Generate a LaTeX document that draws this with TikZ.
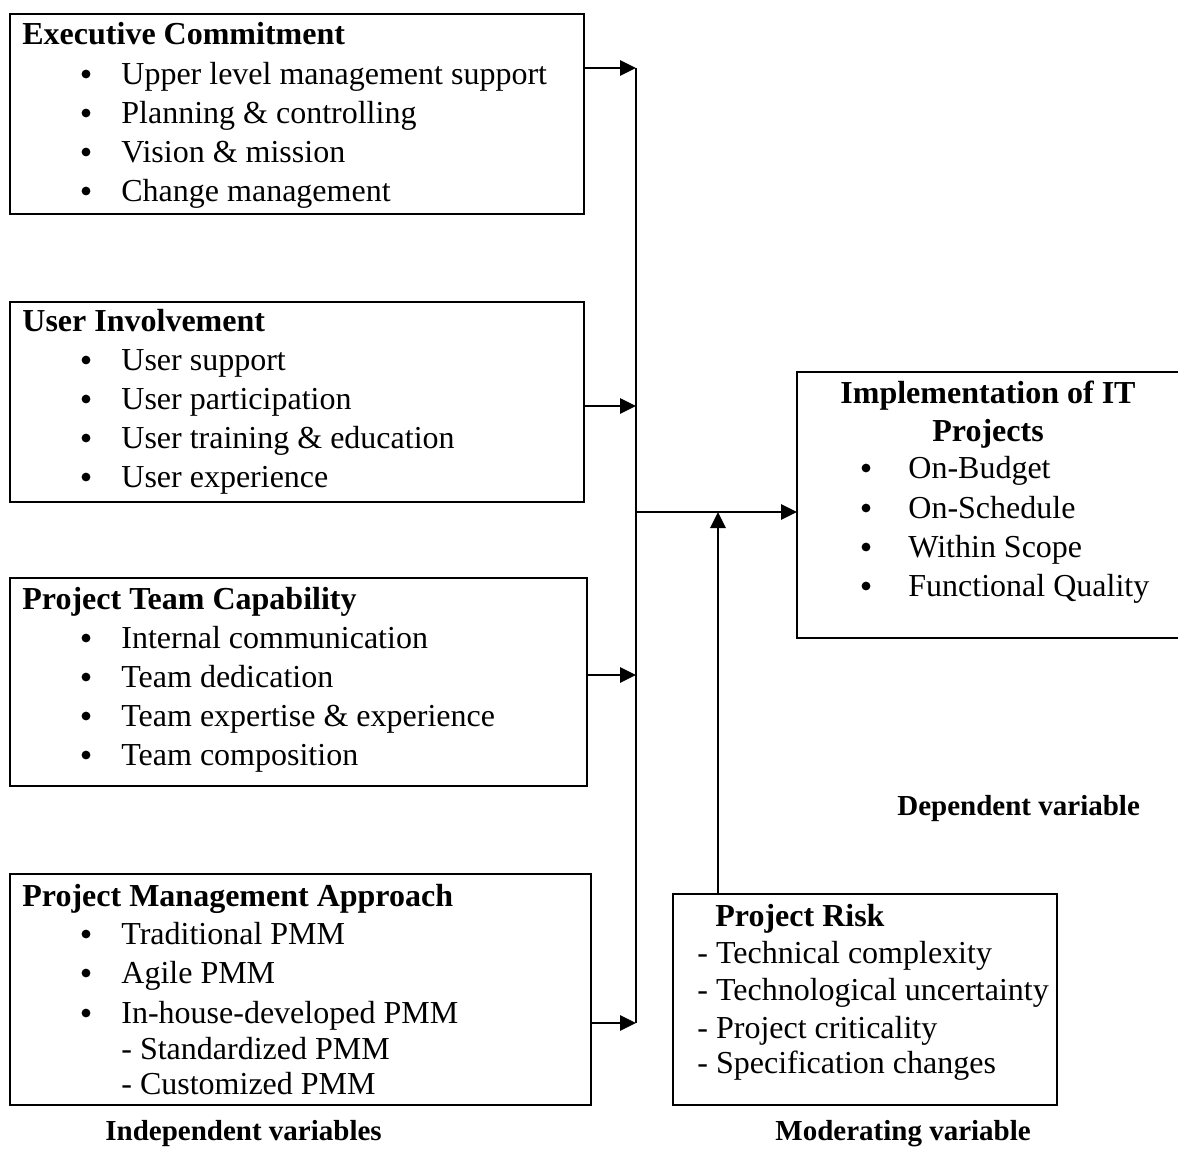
\documentclass[tikz,border=0pt]{standalone}
\usepackage{fontspec}
\setmainfont{Liberation Serif}
\usetikzlibrary{arrows.meta}

\tikzset{
  box/.style={draw, line width=1.4pt, inner sep=0pt, outer sep=0pt, anchor=north west},
  txt/.style={inner sep=0pt, anchor=base west, font=\fontsize{16}{19}\selectfont},
  head/.style={txt, font=\fontsize{16}{19}\selectfont\bfseries},
  caption/.style={txt, font=\fontsize{14.5}{17}\selectfont\bfseries},
  bul/.style={circle, fill, inner sep=0pt, minimum size=4.4pt},
  link/.style={line width=1.4pt},
}

\begin{document}
\begin{tikzpicture}[x=0.5pt,y=-0.5pt,>={Triangle[length=8pt,width=7.5pt]}]
\useasboundingbox (0,0) rectangle (1178,1148);
% independent variables
\node[box, minimum width=287pt, minimum height=100pt] (exec) at (10,14) {};
\node[head] (exec head) at (22,44) {Executive Commitment};
\foreach \y/\t [count=\i] in {84/Upper level management support, 123/Planning \& controlling, 162/Vision \& mission, 201/Change management}{
  \node[bul] (exec bul\i) at (86,\y-10) {};
  \node[txt] (exec item\i) at (121,\y) {\t};
}
\node[box, minimum width=287pt, minimum height=100pt] (user) at (10,302) {};
\node[head] (user head) at (22,331) {User Involvement};
\foreach \y/\t [count=\i] in {370/User support, 409/User participation, 448/User training \& education, 487/User experience}{
  \node[bul] (user bul\i) at (86,\y-10) {};
  \node[txt] (user item\i) at (121,\y) {\t};
}
\node[box, minimum width=288.5pt, minimum height=104pt] (team) at (10,578) {};
\node[head] (team head) at (22,609) {Project Team Capability};
\foreach \y/\t [count=\i] in {648/Internal communication, 687/Team dedication, 726/Team expertise \& experience, 765/Team composition}{
  \node[bul] (team bul\i) at (86,\y-10) {};
  \node[txt] (team item\i) at (121,\y) {\t};
}
\node[box, minimum width=290.5pt, minimum height=115.5pt] (pma) at (10,874) {};
\node[head] (pma head) at (22,906) {Project Management Approach};
\foreach \y/\t [count=\i] in {944/Traditional PMM, 983/Agile PMM, 1023/In-house-developed PMM}{
  \node[bul] (pma bul\i) at (86,\y-10) {};
  \node[txt] (pma item\i) at (121,\y) {\t};
}
\node[txt] (pma sub1) at (121,1059) {- Standardized PMM};
\node[txt] (pma sub2) at (121,1094) {- Customized PMM};
% dependent variable
\node[box, minimum width=194pt, minimum height=133pt] (impl) at (797,372) {};
\node[head, anchor=base] (impl head1) at (988,403) {Implementation of IT};
\node[head, anchor=base] (impl head2) at (988,441) {Projects};
\foreach \y/\t [count=\i] in {478/On-Budget, 518/On-Schedule, 557/Within Scope, 596/Functional Quality}{
  \node[bul] (impl bul\i) at (866,\y-10) {};
  \node[txt] (impl item\i) at (908,\y) {\t};
}
% moderating variable
\node[box, minimum width=192pt, minimum height=105.5pt] (risk) at (673,894) {};
\node[head] (risk head) at (715,926) {Project Risk};
\foreach \y/\t [count=\i] in {963/Technical complexity, 1000/Technological uncertainty, 1038/Project criticality, 1073/Specification changes}{
  \node[txt] (risk item\i) at (697,\y) {- \t};
}
% captions
\node[caption] (indep) at (105,1140) {Independent variables};
\node[caption] (moder) at (775,1140) {Moderating variable};
\node[caption] (dep) at (897,815) {Dependent variable};
% connectors
\coordinate (bus1) at (636,68);
\coordinate (bus2) at (636,406);
\coordinate (bus3) at (636,675);
\coordinate (bus4) at (636,1023);
\coordinate (join) at (636,512);
\coordinate (risk in) at (718,512);
\draw[link] (bus1) -- (bus4);
\draw[link,->] (exec.east |- bus1) -- (bus1);
\draw[link,->] (user.east |- bus2) -- (bus2);
\draw[link,->] (team.east |- bus3) -- (bus3);
\draw[link,->] (pma.east |- bus4) -- (bus4);
\draw[link,->] (join) -- (impl.west |- join);
\draw[link,->] (risk.north -| risk in) -- (risk in);
\end{tikzpicture}
\end{document}
